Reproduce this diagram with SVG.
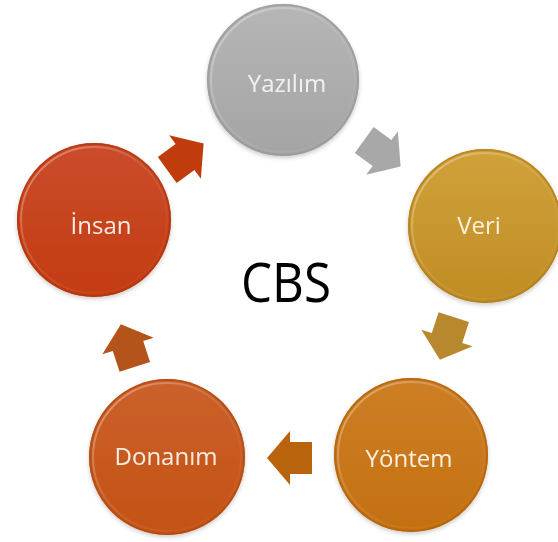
<svg xmlns="http://www.w3.org/2000/svg" width="558" height="542" viewBox="0 0 558 542">
<defs>
<style>
.lbl{font-family:"Open Sans","Noto Sans",sans-serif;font-size:24px;font-weight:500;text-anchor:middle;}
.rim{fill:none;stroke-width:2;stroke-opacity:0.7;}
.hl{fill:none;stroke:url(#hl);stroke-width:2;}
</style>
<linearGradient id="hl" x1="0" y1="0" x2="1" y2="1">
<stop offset="0" stop-color="#fff" stop-opacity="0.4"/>
<stop offset="0.45" stop-color="#fff" stop-opacity="0.1"/>
<stop offset="1" stop-color="#fff" stop-opacity="0"/>
</linearGradient>
<linearGradient id="gY" x1="0" y1="0" x2="0" y2="1"><stop offset="0" stop-color="#b6b6b6"/><stop offset="1" stop-color="#a4a4a4"/></linearGradient>
<linearGradient id="gV" x1="0" y1="0" x2="0" y2="1"><stop offset="0" stop-color="#d0a23a"/><stop offset="1" stop-color="#c08c24"/></linearGradient>
<linearGradient id="gT" x1="0" y1="0" x2="0" y2="1"><stop offset="0" stop-color="#cd7f26"/><stop offset="1" stop-color="#c47010"/></linearGradient>
<linearGradient id="gD" x1="0" y1="0" x2="0" y2="1"><stop offset="0" stop-color="#cb612c"/><stop offset="1" stop-color="#c45214"/></linearGradient>
<linearGradient id="gI" x1="0" y1="0" x2="0" y2="1"><stop offset="0" stop-color="#cb4c2c"/><stop offset="1" stop-color="#c33c10"/></linearGradient>
<filter id="sh" x="-20%" y="-20%" width="140%" height="140%"><feDropShadow dx="0" dy="2" stdDeviation="2" flood-color="#000" flood-opacity="0.2"/></filter>
<path id="arr" d="M23,0 L0,-27 L0,-16 L-22,-16 L-22,16 L0,16 L0,27 Z"/>
</defs>
<rect width="558" height="542" fill="#ffffff"/>
<g id="connectors">
<use href="#arr" transform="translate(382,153) rotate(36)" fill="#a8a8a8"/>
<use href="#arr" transform="translate(447,338) rotate(108)" fill="#b8882e"/>
<use href="#arr" transform="translate(290,458) rotate(180)" fill="#b8640c"/>
<use href="#arr" transform="translate(128,346) rotate(252)" fill="#b5541a"/>
<use href="#arr" transform="translate(185,157) rotate(324)" fill="#c03c0c"/>
</g>
<g id="yazilim" filter="url(#sh)">
<circle cx="283" cy="80" r="76" fill="url(#gY)"/>
<circle class="rim" cx="283" cy="80" r="75" stroke="#999999"/>
<circle class="hl" cx="283" cy="80" r="72"/>
<text class="lbl" x="287" y="92" fill="#f2f2f2">Yazılım</text>
</g>
<g id="veri" filter="url(#sh)">
<circle cx="485" cy="226" r="77" fill="url(#gV)"/>
<circle class="rim" cx="485" cy="226" r="76" stroke="#b07e1a"/>
<circle class="hl" cx="485" cy="226" r="73"/>
<text class="lbl" x="479" y="234" fill="#fbf3e0">Veri</text>
</g>
<g id="yontem" filter="url(#sh)">
<circle cx="411" cy="455" r="77" fill="url(#gT)"/>
<circle class="rim" cx="411" cy="455" r="76" stroke="#b06208"/>
<circle class="hl" cx="411" cy="455" r="73"/>
<text class="lbl" x="409" y="467" fill="#fbf0e0">Yöntem</text>
</g>
<g id="donanim" filter="url(#sh)">
<circle cx="167" cy="457" r="78" fill="url(#gD)"/>
<circle class="rim" cx="167" cy="457" r="77" stroke="#b04a10"/>
<circle class="hl" cx="167" cy="457" r="74"/>
<text class="lbl" x="166" y="465" fill="#fbeee4">Donanım</text>
</g>
<g id="insan" filter="url(#sh)">
<circle cx="94" cy="220" r="77" fill="url(#gI)"/>
<circle class="rim" cx="94" cy="220" r="76" stroke="#b0340c"/>
<circle class="hl" cx="94" cy="220" r="73"/>
<text class="lbl" x="101" y="234" fill="#fbece6">İnsan</text>
</g>
<g id="title">
<text x="286" y="302" font-family="'Open Sans','Noto Sans',sans-serif" font-size="55" text-anchor="middle" textLength="90" lengthAdjust="spacingAndGlyphs" fill="#000">CBS</text>
</g>
</svg>
